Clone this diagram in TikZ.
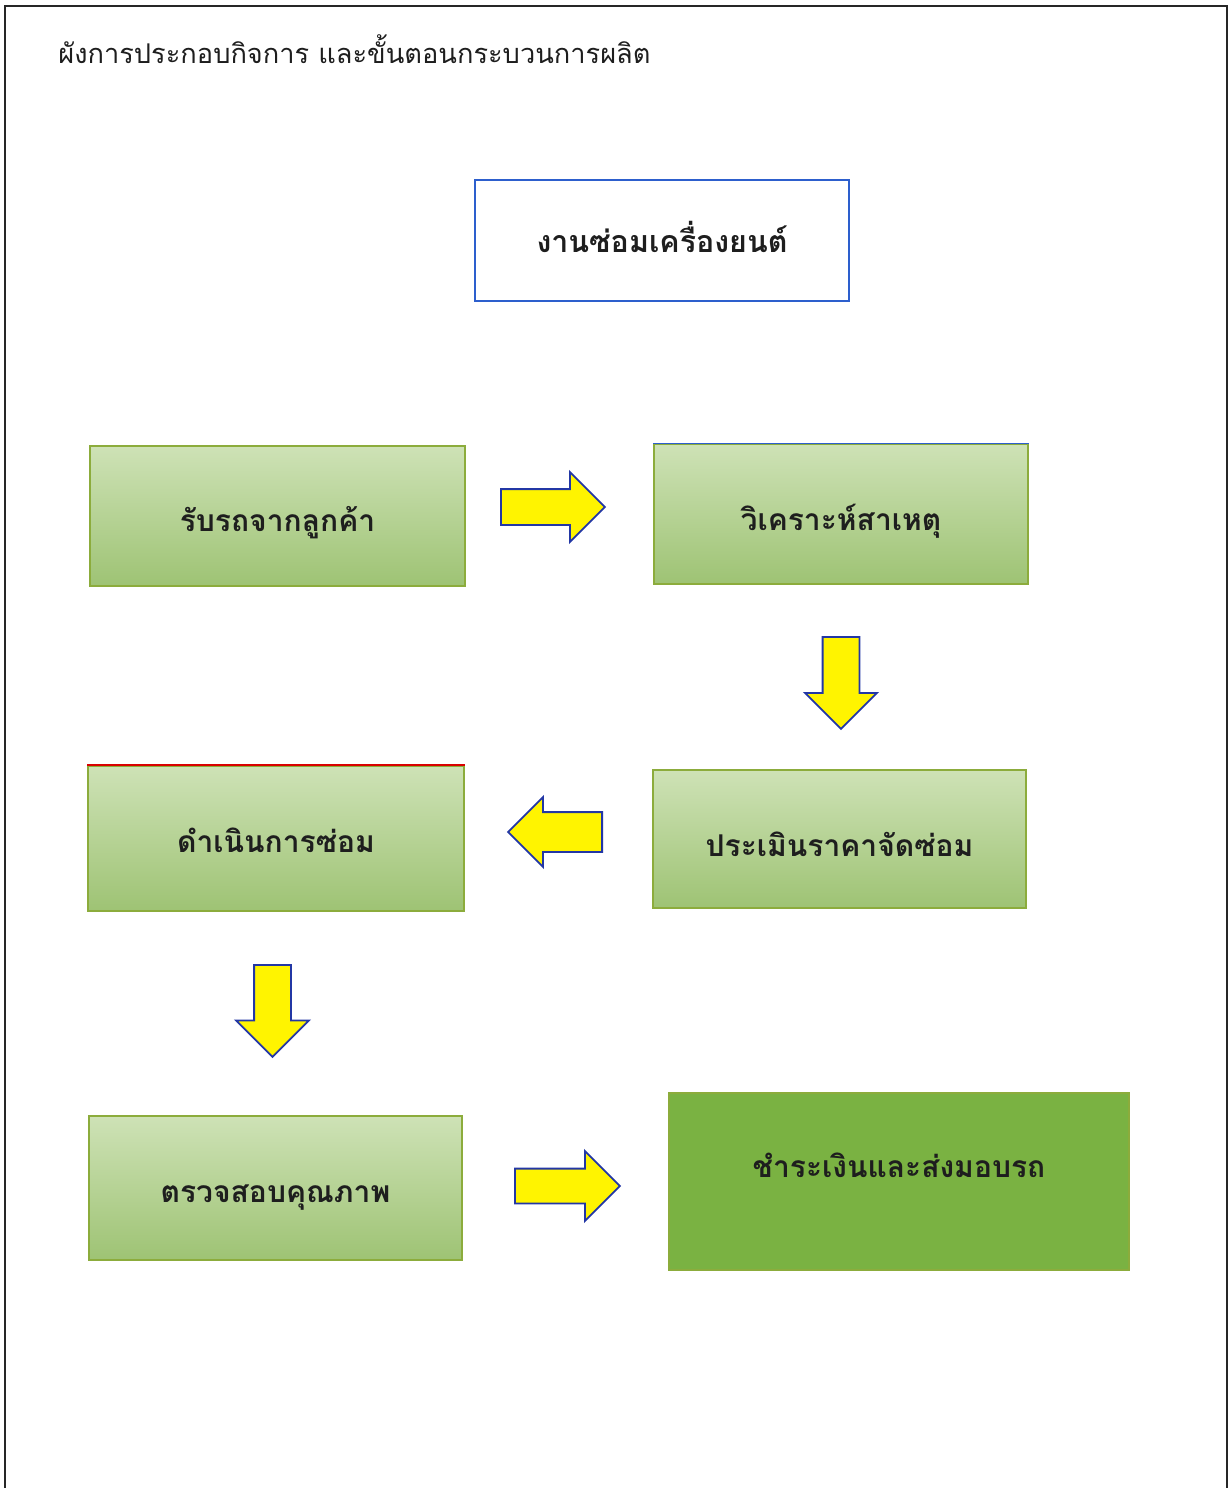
\documentclass[tikz,border=0pt]{standalone}
\usepackage{fontspec}
\newfontfamily\thai[Script=Thai]{Loma}
\usetikzlibrary{shapes.arrows}
\definecolor{gtop}{RGB}{206,226,182}
\definecolor{gbot}{RGB}{158,195,116}
\definecolor{gline}{RGB}{140,172,60}
\definecolor{dgreen}{RGB}{122,178,66}
\definecolor{ablue}{RGB}{35,55,165}
\definecolor{ayellow}{RGB}{255,244,0}
\definecolor{bblue}{RGB}{45,95,205}
\definecolor{txt}{RGB}{30,30,30}
\begin{document}
\begin{tikzpicture}[x=0.5pt,y=-0.5pt,
  stepbox/.style={rectangle, draw=gline, line width=0.7pt, top color=gtop, bottom color=gbot,
    inner sep=0pt, font=\thai\bfseries\fontsize{15}{18}\selectfont, text=txt, align=center},
  headbox/.style={rectangle, draw=bblue, line width=1pt, fill=white, inner sep=0pt,
    font=\thai\bfseries\fontsize{15.2}{18}\selectfont, text=txt},
  barrow/.style={single arrow, draw=ablue, fill=ayellow, line width=0.9pt, inner xsep=0pt,
    single arrow tip angle=90, anchor=tail}
]
\useasboundingbox (0,0) rectangle (1230,1488);
\fill[white] (0,0) rectangle (1230,1488);
% frame
\draw[line width=1.2pt, black!85] (5,1488) -- (5,6) -- (1227,6) -- (1227,1488);

\node[anchor=base west, inner sep=0pt, font=\thai\fontsize{13.6}{16}\selectfont, text=txt] (title) at (58,63)
  {ผังการประกอบกิจการ และขั้นตอนกระบวนการผลิต};

\node[headbox, minimum width=187pt, minimum height=60.5pt, text height=36pt, text depth=24.5pt] (head) at (662,240.5) {งานซ่อมเครื่องยนต์};

\node[stepbox, minimum width=187.5pt, minimum height=70pt, text height=42.5pt, text depth=27.5pt] (b1) at (277.5,516) {รับรถจากลูกค้า};
\node[stepbox, minimum width=187pt, minimum height=70pt, text height=43pt, text depth=27pt] (b2) at (841,514) {วิเคราะห์สาเหตุ};
\node[stepbox, minimum width=188pt, minimum height=72.5pt, text height=43pt, text depth=29.5pt] (b3) at (276,838.5) {ดำเนินการซ่อม};
\node[stepbox, minimum width=186.5pt, minimum height=69pt, text height=43pt, text depth=26pt] (b4) at (839.5,839) {ประเมินราคาจัดซ่อม};
\node[stepbox, minimum width=186.5pt, minimum height=72pt, text height=43pt, text depth=29pt] (b5) at (275.5,1188) {ตรวจสอบคุณภาพ};
\node[stepbox, fill=dgreen, top color=dgreen, bottom color=dgreen, minimum width=230pt, minimum height=88.5pt, text height=42pt, text depth=46.5pt] (b6) at (899,1181.5) {ชำระเงินและส่งมอบรถ};

\draw[bblue, line width=0.8pt] (b2.north west) -- (b2.north east);
\draw[red!85!black, line width=0.9pt] (b3.north west) -- (b3.north east);

% block arrows
\node[barrow, minimum height=52pt, inner ysep=8.5pt, single arrow head extend=8.5pt] (a1) at (500,507) {};
\node[barrow, rotate=-90, minimum height=46pt, inner ysep=8.75pt, single arrow head extend=8.75pt] (a2) at (841,636) {};
\node[barrow, rotate=180, minimum height=47pt, inner ysep=9.5pt, single arrow head extend=7.5pt] (a3) at (603,832) {};
\node[barrow, rotate=-90, minimum height=46pt, inner ysep=8.75pt, single arrow head extend=9pt] (a4) at (272.5,964) {};
\node[barrow, minimum height=52.5pt, inner ysep=8.25pt, single arrow head extend=8.75pt] (a5) at (514,1186) {};
\end{tikzpicture}
\end{document}
